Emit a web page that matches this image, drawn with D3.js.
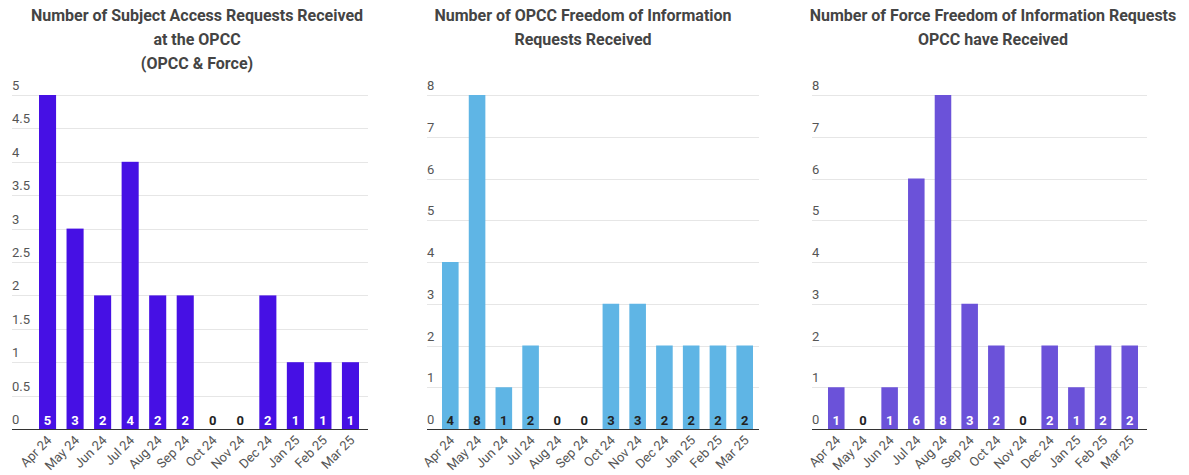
<!DOCTYPE html>
<meta charset="utf-8">
<style>
body {
  margin: 0;
  background: #fff;
  font-family: Roboto, "Noto Sans", sans-serif;
}
.grid line {
  stroke: #e6e6e6;
  shape-rendering: crispEdges;
}
.tick-label {
  font-size: 13px;
  fill: #555;
}
.title {
  font-size: 16px;
  font-weight: bold;
  fill: #444;
}
</style>
<body>
<svg id="chart" width="1189" height="475"></svg>
<script src="https://d3js.org/d3.v7.min.js"></script>
<script>

// months shared by all three charts
var months = ["Apr 24", "May 24", "Jun 24", "Jul 24", "Aug 24", "Sep 24",
              "Oct 24", "Nov 24", "Dec 24", "Jan 25", "Feb 25", "Mar 25"];

// Subject access requests (OPCC & Force)
var sarValues = [5, 3, 2, 4, 2, 2, 0, 0, 2, 1, 1, 1];
var sarTicks = [0, 0.5, 1, 1.5, 2, 2.5, 3, 3.5, 4, 4.5, 5];

// OPCC FOI requests
var opccFoiValues = [4, 8, 1, 2, 0, 0, 3, 3, 2, 2, 2, 2];

// Force FOI requests received by OPCC
var forceFoiValues = [1, 0, 1, 6, 8, 3, 2, 0, 2, 1, 2, 2];

var countTicks = [0, 1, 2, 3, 4, 5, 6, 7, 8];

var svg = d3.select("#chart");

function drawChart(opts) {
  var g = svg.append("g");

  // title lines
  opts.title.forEach(function(line, i) {
    g.append("text")
      .attr("class", "title")
      .attr("x", opts.titleX)
      .attr("y", 21 + i * 24)
      .attr("text-anchor", "middle")
      .text(line);
  });

  var x = d3.scaleBand()
    .domain(months)
    .range([opts.barLeft, opts.barRight])
    .paddingInner(0.38)
    .paddingOuter(0);

  var y = d3.scaleLinear()
    .domain([0, opts.max])
    .range([429, 95]);

  // gridlines and tick labels
  var grid = g.append("g").attr("class", "grid");
  grid.selectAll("line")
    .data(opts.ticks.filter(function(t) { return t > 0; }))
    .enter().append("line")
      .attr("x1", opts.gridLeft)
      .attr("x2", opts.gridRight)
      .attr("y1", function(d) { return Math.round(y(d)) + 0.5; })
      .attr("y2", function(d) { return Math.round(y(d)) + 0.5; });

  g.selectAll(".tick-label")
    .data(opts.ticks)
    .enter().append("text")
      .attr("class", "tick-label")
      .attr("x", opts.gridLeft)
      .attr("y", function(d) { return y(d) - 5; })
      .text(function(d) { return d; });

  // bars
  g.selectAll(".bar")
    .data(opts.values)
    .enter().append("rect")
      .attr("class", "bar")
      .attr("x", function(d, i) { return x(months[i]); })
      .attr("width", x.bandwidth())
      .attr("y", function(d) { return y(d); })
      .attr("height", function(d) { return y(0) - y(d); })
      .attr("fill", opts.color);

  // value labels near the bottom of each bar
  g.selectAll(".value")
    .data(opts.values)
    .enter().append("text")
      .attr("class", "value")
      .attr("x", function(d, i) { return x(months[i]) + x.bandwidth() / 2; })
      .attr("y", y(0) - 4)
      .attr("text-anchor", "middle")
      .style("font-size", "13px")
      .style("font-weight", "bold")
      .attr("fill", function(d) { return d > 0 ? opts.labelColor : "#222"; })
      .text(function(d) { return d; });

  // baseline
  g.append("line")
    .attr("x1", opts.gridLeft)
    .attr("x2", opts.gridRight)
    .attr("y1", 429.5)
    .attr("y2", 429.5)
    .attr("stroke", "#333")
    .attr("stroke-width", 1.2);

  // rotated month labels
  g.selectAll(".month")
    .data(months)
    .enter().append("text")
      .attr("class", "month")
      .attr("transform", function(d) {
        return "translate(" + (x(d) + x.bandwidth() / 2 + 5) + ",441) rotate(-45)";
      })
      .attr("text-anchor", "end")
      .style("font-size", "13px")
      .attr("fill", "#555")
      .text(function(d) { return d; });
}

drawChart({
  title: ["Number of Subject Access Requests Received", "at the OPCC", "(OPCC & Force)"],
  titleX: 197,
  values: sarValues,
  max: 5,
  ticks: sarTicks,
  gridLeft: 12, gridRight: 368,
  barLeft: 39, barRight: 359,
  color: "#4610e4",
  labelColor: "#fff"
});

drawChart({
  title: ["Number of OPCC Freedom of Information", "Requests Received"],
  titleX: 583,
  values: opccFoiValues,
  max: 8,
  ticks: countTicks,
  gridLeft: 427, gridRight: 759,
  barLeft: 442, barRight: 753,
  color: "#5fb5e5",
  labelColor: "#222"
});

drawChart({
  title: ["Number of Force Freedom of Information Requests", "OPCC have Received"],
  titleX: 993,
  values: forceFoiValues,
  max: 8,
  ticks: countTicks,
  gridLeft: 812, gridRight: 1147,
  barLeft: 828, barRight: 1138,
  color: "#6b52d9",
  labelColor: "#fff"
});

</script>
</body>
